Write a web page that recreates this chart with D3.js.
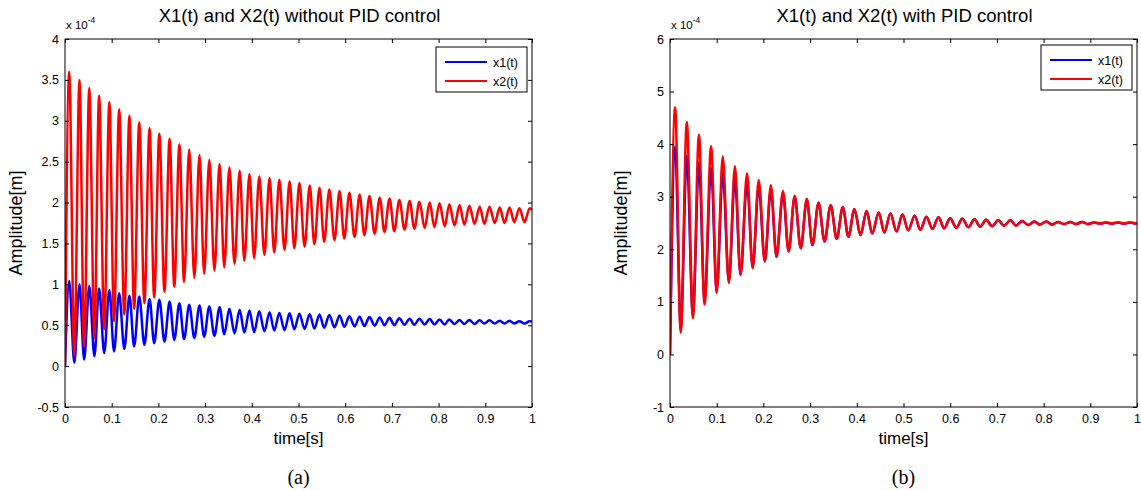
<!DOCTYPE html>
<html>
<head>
<meta charset="utf-8">
<script src="https://cdn.jsdelivr.net/npm/d3@7"></script>
<style>
  html, body { margin: 0; padding: 0; background: #fff; }
  svg { display: block; }
  text { font-family: "Liberation Sans", Arial, sans-serif; fill: #000; }
</style>
</head>
<body>
<svg id="chart" width="1141" height="490"></svg>
<script>
// ---------------- DATA ----------------
const xTicks = [0, 0.1, 0.2, 0.3, 0.4, 0.5, 0.6, 0.7, 0.8, 0.9, 1];
const xTickLabels = ["0", "0.1", "0.2", "0.3", "0.4", "0.5", "0.6", "0.7", "0.8", "0.9", "1"];
const yTicksA = [-0.5, 0, 0.5, 1, 1.5, 2, 2.5, 3, 3.5, 4];
const yTickLabelsA = ["-0.5", "0", "0.5", "1", "1.5", "2", "2.5", "3", "3.5", "4"];
const yTicksB = [-1, 0, 1, 2, 3, 4, 5, 6];
const yTickLabelsB = ["-1", "0", "1", "2", "3", "4", "5", "6"];
const seriesNames = ["x1(t)", "x2(t)"];

// Panel (a): without PID control — times of local maxima / minima [s], values [x 1e-4 m]
const tPeakA = [0.009, 0.031, 0.052, 0.073, 0.095, 0.116, 0.138, 0.159, 0.181, 0.202,
  0.224, 0.245, 0.266, 0.288, 0.309, 0.331, 0.352, 0.374, 0.395, 0.416,
  0.438, 0.459, 0.481, 0.502, 0.524, 0.545, 0.566, 0.588, 0.609, 0.631,
  0.652, 0.674, 0.695, 0.716, 0.738, 0.759, 0.781, 0.802, 0.823, 0.845,
  0.866, 0.888, 0.909, 0.931, 0.952, 0.973, 0.995];
const tTroughA = [0.020, 0.041, 0.063, 0.084, 0.105, 0.127, 0.148, 0.170, 0.191, 0.213,
  0.234, 0.255, 0.277, 0.298, 0.320, 0.341, 0.363, 0.384, 0.405, 0.427,
  0.448, 0.470, 0.491, 0.513, 0.534, 0.555, 0.577, 0.598, 0.620, 0.641,
  0.663, 0.684, 0.705, 0.727, 0.748, 0.770, 0.791, 0.813, 0.834, 0.855,
  0.877, 0.898, 0.920, 0.941, 0.962, 0.984];
const x2PeakA = [3.60, 3.50, 3.40, 3.31, 3.23, 3.14, 3.06, 2.98, 2.91, 2.84,
  2.78, 2.71, 2.65, 2.58, 2.52, 2.47, 2.43, 2.39, 2.35, 2.32,
  2.30, 2.28, 2.26, 2.24, 2.21, 2.18, 2.16, 2.14, 2.12, 2.10,
  2.08, 2.06, 2.05, 2.03, 2.02, 2.01, 2.00, 1.99, 1.98, 1.97,
  1.96, 1.95, 1.95, 1.94, 1.94, 1.93, 1.93];
const x2TroughA = [0.13, 0.24, 0.34, 0.45, 0.55, 0.63, 0.70, 0.77, 0.84, 0.91,
  0.97, 1.03, 1.08, 1.13, 1.17, 1.21, 1.25, 1.29, 1.32, 1.36,
  1.39, 1.42, 1.44, 1.46, 1.49, 1.52, 1.54, 1.56, 1.58, 1.60,
  1.62, 1.64, 1.65, 1.67, 1.68, 1.69, 1.70, 1.71, 1.72, 1.73,
  1.74, 1.74, 1.75, 1.75, 1.76, 1.76];
const x1PeakA = [1.04, 1.00, 0.98, 0.95, 0.93, 0.89, 0.86, 0.85, 0.82, 0.81,
  0.79, 0.77, 0.75, 0.74, 0.73, 0.72, 0.70, 0.69, 0.68, 0.67,
  0.66, 0.65, 0.645, 0.64, 0.635, 0.63, 0.625, 0.62, 0.61, 0.605,
  0.60, 0.595, 0.59, 0.585, 0.58, 0.58, 0.575, 0.57, 0.57, 0.565,
  0.565, 0.56, 0.56, 0.555, 0.555, 0.55, 0.55];
const x1TroughA = [0.04, 0.08, 0.12, 0.16, 0.18, 0.21, 0.24, 0.26, 0.28, 0.30,
  0.32, 0.33, 0.345, 0.36, 0.37, 0.39, 0.40, 0.41, 0.415, 0.425,
  0.435, 0.44, 0.45, 0.455, 0.46, 0.47, 0.475, 0.48, 0.485, 0.49,
  0.495, 0.50, 0.50, 0.505, 0.505, 0.51, 0.51, 0.51, 0.515, 0.515,
  0.515, 0.52, 0.52, 0.52, 0.52, 0.52];
const startA = [0, 0];        // x1, x2 at t = 0
const endA = [0.545, 1.91];   // x1, x2 at t = 1

// Panel (b): with PID control
const tPeakB = [0.011, 0.036, 0.062, 0.088, 0.113, 0.139, 0.165, 0.190, 0.216, 0.242,
  0.267, 0.293, 0.318, 0.344, 0.370, 0.395, 0.421, 0.447, 0.472, 0.498,
  0.524, 0.549, 0.575, 0.600, 0.626, 0.652, 0.677, 0.703, 0.729, 0.754,
  0.780, 0.806, 0.831, 0.857, 0.883, 0.908, 0.934, 0.959, 0.985];
const tTroughB = [0.023, 0.049, 0.074, 0.100, 0.126, 0.151, 0.177, 0.203, 0.228, 0.254,
  0.280, 0.305, 0.331, 0.357, 0.382, 0.408, 0.433, 0.459, 0.485, 0.510,
  0.536, 0.562, 0.587, 0.613, 0.639, 0.664, 0.690, 0.715, 0.741, 0.767,
  0.792, 0.818, 0.844, 0.869, 0.895, 0.921, 0.946, 0.972, 0.998];
const x2PeakB = [4.70, 4.42, 4.18, 3.96, 3.77, 3.58, 3.44, 3.32, 3.22, 3.11,
  3.02, 2.96, 2.89, 2.84, 2.80, 2.76, 2.73, 2.70, 2.68, 2.66,
  2.64, 2.62, 2.61, 2.59, 2.58, 2.57, 2.56, 2.55, 2.55, 2.54,
  2.53, 2.53, 2.52, 2.52, 2.52, 2.51, 2.51, 2.51, 2.51];
const x2TroughB = [0.41, 0.69, 0.95, 1.17, 1.36, 1.51, 1.64, 1.77, 1.86, 1.96,
  2.02, 2.08, 2.15, 2.20, 2.24, 2.27, 2.30, 2.32, 2.34, 2.36,
  2.37, 2.39, 2.40, 2.41, 2.42, 2.43, 2.44, 2.45, 2.45, 2.46,
  2.47, 2.47, 2.48, 2.48, 2.48, 2.49, 2.49, 2.49, 2.49];
const x1PeakB = [3.95, 3.78, 3.64, 3.54, 3.44, 3.34, 3.26, 3.19, 3.13, 3.06,
  3.00, 2.94, 2.88, 2.84, 2.80, 2.76, 2.73, 2.70, 2.68, 2.66,
  2.64, 2.62, 2.61, 2.59, 2.58, 2.57, 2.56, 2.55, 2.55, 2.54,
  2.53, 2.53, 2.52, 2.52, 2.52, 2.51, 2.51, 2.51, 2.51];
const x1TroughB = [0.50, 0.76, 1.00, 1.20, 1.38, 1.52, 1.65, 1.77, 1.86, 1.96,
  2.02, 2.08, 2.15, 2.20, 2.24, 2.27, 2.30, 2.32, 2.34, 2.36,
  2.37, 2.39, 2.40, 2.41, 2.42, 2.43, 2.44, 2.45, 2.45, 2.46,
  2.47, 2.47, 2.48, 2.48, 2.48, 2.49, 2.49, 2.49, 2.49];
const startB = [0, 0];
const endB = [2.50, 2.50];

// ---------------- DRAWING ----------------
const svg = d3.select("#chart");
const colors = ["#0000ff", "#ff0000"];

function buildSeries(tp, vp, tt, vt, v0, vEnd) {
  const pts = [[0, v0]];
  tp.forEach((t, i) => pts.push([t, vp[i]]));
  tt.forEach((t, i) => pts.push([t, vt[i]]));
  pts.push([1, vEnd]);
  pts.sort((a, b) => a[0] - b[0]);
  return pts;
}

function drawPanel(cfg) {
  const g = svg.append("g").attr("transform", `translate(${cfg.left},${cfg.top})`);
  const w = cfg.width, h = cfg.height;
  const x = d3.scaleLinear().domain([0, 1]).range([0, w]);
  const y = d3.scaleLinear().domain(cfg.yDomain).range([h, 0]);

  g.append("rect").attr("width", w).attr("height", h).attr("fill", "#fff");

  const clipId = "clip" + cfg.id;
  g.append("clipPath").attr("id", clipId)
    .append("rect").attr("x", 0).attr("y", 0).attr("width", w).attr("height", h);

  const line = d3.line()
    .x(d => x(d[0])).y(d => y(d[1]))
    .curve(d3.curveMonotoneX);

  const lines = g.append("g").attr("clip-path", `url(#${clipId})`);
  cfg.series.forEach((s, i) => {
    lines.append("path")
      .datum(s)
      .attr("fill", "none")
      .attr("stroke", colors[i])
      .attr("stroke-width", 2.5)
      .attr("stroke-linejoin", "round")
      .attr("d", line);
  });

  const fmtX = d => xTickLabels[xTicks.indexOf(d)];
  const fmtY = d => cfg.yLabels[cfg.yTicks.indexOf(d)];

  const axB = g.append("g").attr("transform", `translate(0,${h})`)
    .call(d3.axisBottom(x).tickValues(xTicks).tickFormat(fmtX).tickSizeInner(-4).tickSizeOuter(0).tickPadding(7));
  const axL = g.append("g")
    .call(d3.axisLeft(y).tickValues(cfg.yTicks).tickFormat(fmtY).tickSizeInner(-4).tickSizeOuter(0).tickPadding(6));
  const axT = g.append("g")
    .call(d3.axisTop(x).tickValues(xTicks).tickFormat("").tickSizeInner(-4).tickSizeOuter(0));
  const axR = g.append("g").attr("transform", `translate(${w},0)`)
    .call(d3.axisRight(y).tickValues(cfg.yTicks).tickFormat("").tickSizeInner(-4).tickSizeOuter(0));

  [axB, axL, axT, axR].forEach(a => {
    a.select(".domain").remove();
    a.selectAll(".tick line").attr("stroke", "#000").attr("stroke-width", 1);
    a.selectAll(".tick text").attr("font-size", 12.5).attr("font-family", '"Liberation Sans", Arial, sans-serif').attr("fill", "#000");
  });

  g.append("rect").attr("width", w).attr("height", h)
    .attr("fill", "none").attr("stroke", "#000").attr("stroke-width", 1);

  const ex = g.append("text").attr("x", 1).attr("y", -10).attr("font-size", 11.5);
  ex.append("tspan").text("x 10");
  ex.append("tspan").attr("dy", -6).attr("font-size", 8.5).text("-4");

  g.append("text").attr("x", w / 2 + 1).attr("y", -17).attr("text-anchor", "middle")
    .attr("font-size", 18.5).text(cfg.title);

  g.append("text").attr("x", w / 2).attr("y", h + 37).attr("text-anchor", "middle")
    .attr("font-size", 17).text("time[s]");

  g.append("text").attr("transform", `translate(${-43},${h / 2}) rotate(-90)`)
    .attr("text-anchor", "middle").attr("font-size", 18).text("Amplitude[m]");

  g.append("text").attr("x", w / 2).attr("y", h + 77).attr("text-anchor", "middle")
    .attr("font-size", 20).style("font-family", '"Liberation Serif", "Times New Roman", serif')
    .text(cfg.caption);

  const lg = g.append("g").attr("transform", `translate(${w - cfg.legendRight - 91},${cfg.legendTop})`);
  lg.append("rect").attr("width", 91).attr("height", 45)
    .attr("fill", "#fff").attr("stroke", "#000").attr("stroke-width", 1);
  seriesNames.forEach((n, i) => {
    const yy = 15 + i * 19;
    lg.append("line").attr("x1", 9).attr("x2", 51).attr("y1", yy).attr("y2", yy)
      .attr("stroke", colors[i]).attr("stroke-width", 2);
    lg.append("text").attr("x", 57).attr("y", yy + 4.5).attr("font-size", 12.5).text(n);
  });
}

drawPanel({
  id: "a", left: 65, top: 39, width: 467, height: 368,
  yDomain: [-0.5, 4], yTicks: yTicksA, yLabels: yTickLabelsA,
  title: "X1(t) and X2(t) without PID control", caption: "(a)",
  legendRight: 5, legendTop: 8,
  series: [
    buildSeries(tPeakA, x1PeakA, tTroughA, x1TroughA, startA[0], endA[0]),
    buildSeries(tPeakA, x2PeakA, tTroughA, x2TroughA, startA[1], endA[1])
  ]
});

drawPanel({
  id: "b", left: 670, top: 39, width: 467, height: 368,
  yDomain: [-1, 6], yTicks: yTicksB, yLabels: yTickLabelsB,
  title: "X1(t) and X2(t) with PID control", caption: "(b)",
  legendRight: 5, legendTop: 6,
  series: [
    buildSeries(tPeakB, x1PeakB, tTroughB, x1TroughB, startB[0], endB[0]),
    buildSeries(tPeakB, x2PeakB, tTroughB, x2TroughB, startB[1], endB[1])
  ]
});
</script>
</body>
</html>
